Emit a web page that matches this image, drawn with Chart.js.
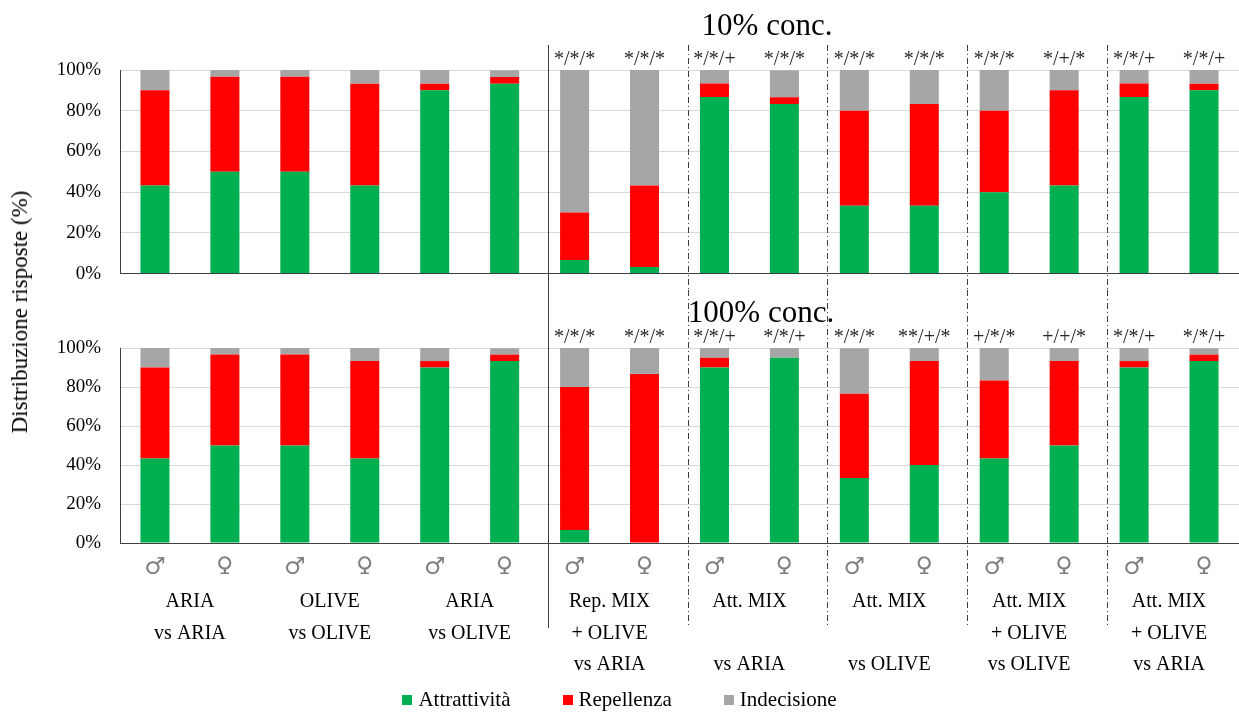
<!DOCTYPE html>
<html>
<head>
<meta charset="utf-8">
<script src="https://cdn.jsdelivr.net/npm/chart.js@4.4.0/dist/chart.umd.min.js"></script>
<style>
  body { margin: 0; background: #fff; }
  #wrap { position: relative; width: 1239px; height: 713px; font-family: 'Liberation Serif', serif; color: #000; }
  #topChart { position: absolute; left: 0; top: 0; }
  #bottomChart { position: absolute; left: 0; top: 290px; }
  #ytitle { position: absolute; left: 20px; top: 312px; transform: translate(-50%, -50%) rotate(-90deg); white-space: nowrap; font-size: 23px; }
  #legend { position: absolute; left: 0; top: 687px; width: 1239px; display: flex; justify-content: center; font-size: 21px; }
  #legend span { display: inline-flex; align-items: center; margin: 0 26px; }
  #legend i { display: inline-block; width: 10px; height: 10px; margin-right: 6px; }
</style>
</head>
<body>
<div id="wrap">
  <canvas id="topChart" width="1239" height="304"></canvas>
  <canvas id="bottomChart" width="1239" height="423"></canvas>
  <div id="ytitle">Distribuzione risposte (%)</div>
  <div id="legend"></div>
</div>
<script>
// categories
const genderLabels = ['♂', '♀', '♂', '♀', '♂', '♀', '♂', '♀', '♂', '♀', '♂', '♀', '♂', '♀', '♂', '♀'];
const groupLabels = [
    ['ARIA', 'vs ARIA'],
    ['OLIVE', 'vs OLIVE'],
    ['ARIA', 'vs OLIVE'],
    ['Rep. MIX', '+ OLIVE', 'vs ARIA'],
    ['Att. MIX', '', 'vs ARIA'],
    ['Att. MIX', '', 'vs OLIVE'],
    ['Att. MIX', '+ OLIVE', 'vs OLIVE'],
    ['Att. MIX', '+ OLIVE', 'vs ARIA']
];
const seriesNames = ['Attrattività', 'Repellenza', 'Indecisione'];

// 10% conc.
const attr10 = [43.3, 50, 50, 43.3, 90, 93.3, 6.7, 3.3, 86.7, 83.3, 33.3, 33.3, 40, 43.3, 86.7, 90];
const rep10 = [46.7, 46.7, 46.7, 50, 3.3, 3.3, 23.3, 40, 6.7, 3.3, 46.7, 50, 40, 46.7, 6.7, 3.3];
const undec10 = [10, 3.3, 3.3, 6.7, 6.7, 3.3, 70, 56.7, 6.7, 13.3, 20, 16.7, 20, 10, 6.7, 6.7];
const notes10 = ['', '', '', '', '', '', '*/*/*', '*/*/*', '*/*/+', '*/*/*', '*/*/*', '*/*/*', '*/*/*', '*/+/*', '*/*/+', '*/*/+'];

// 100% conc.
const attr100 = [43.3, 50, 50, 43.3, 90, 93.3, 6.7, 0, 90, 95, 33.3, 40, 43.3, 50, 90, 93.3];
const rep100 = [46.7, 46.7, 46.7, 50, 3.3, 3.3, 73.3, 86.7, 5, 0, 43.3, 53.3, 40, 43.3, 3.3, 3.3];
const undec100 = [10, 3.3, 3.3, 6.7, 6.7, 3.3, 20, 13.3, 5, 5, 23.3, 6.7, 16.7, 6.7, 6.7, 3.3];
const notes100 = ['', '', '', '', '', '', '*/*/*', '*/*/*', '*/*/+', '*/*/+', '*/*/*', '**/+/*', '+/*/*', '+/+/*', '*/*/+', '*/*/+'];

// separator lines come after these category indexes
const separators = [5, 7, 9, 11, 13];

const colors = ['#00B050', '#FF0000', '#A6A6A6'];

Chart.defaults.font.family = "'Liberation Serif', serif";
Chart.defaults.color = '#000';

const panelDecor = {
    id: 'panelDecor',
    afterDatasetsDraw: function (chart, args, o) {
        const ctx = chart.ctx;
        const xs = chart.scales.x;
        const area = chart.chartArea;
        ctx.save();
        ctx.strokeStyle = '#404040';
        ctx.lineWidth = 1;
        separators.forEach(function (k, n) {
            const x = Math.round(xs.getPixelForValue(k + 0.5) + 8) + 0.5;
            ctx.setLineDash(n === 0 ? [] : [6, 3, 1, 3]);
            ctx.beginPath();
            ctx.moveTo(x, o.lineTop);
            ctx.lineTo(x, o.lineBottom);
            ctx.stroke();
        });
        ctx.setLineDash([]);

        const meta = chart.getDatasetMeta(0);
        ctx.fillStyle = '#262626';
        ctx.font = "20px 'Liberation Serif'";
        ctx.textAlign = 'center';
        ctx.textBaseline = 'alphabetic';
        o.notes.forEach(function (t, i) {
            if (t) ctx.fillText(t, meta.data[i].x, area.top - 5);
        });

        ctx.fillStyle = '#000';
        ctx.font = "31px 'Liberation Serif'";
        ctx.fillText(o.title, o.titleX, o.titleY);
        ctx.restore();
    }
};

function buildDatasets(a, r, u) {
    return [a, r, u].map(function (vals, i) {
        return {
            label: seriesNames[i],
            data: vals,
            backgroundColor: colors[i],
            xAxisID: 'x',
            barPercentage: 0.415,
            categoryPercentage: 1
        };
    });
}

function yScale() {
    return {
        min: 0,
        max: 100,
        afterFit: function (s) { s.width = 120; },
        ticks: {
            stepSize: 20,
            padding: 19,
            font: { size: 19 },
            color: '#000',
            callback: function (v) { return v + '%'; }
        },
        grid: { color: '#D9D9D9', drawTicks: false },
        border: { color: '#404040', width: 1 },
        stacked: true
    };
}

new Chart(document.getElementById('topChart'), {
    type: 'bar',
    data: { labels: genderLabels, datasets: buildDatasets(attr10, rep10, undec10) },
    options: {
        responsive: false,
        animation: false,
        layout: { padding: { top: 70, bottom: 0, left: 0, right: 0 } },
        plugins: {
            legend: { display: false },
            tooltip: { enabled: false },
            panelDecor: { notes: notes10, title: '10% conc.', titleX: 767, titleY: 35, lineTop: 45, lineBottom: 290 }
        },
        scales: {
            x: {
                stacked: true,
                afterFit: function (s) { s.height = 0; },
                ticks: { display: false },
                grid: { display: false },
                border: { color: '#404040', width: 1 }
            },
            y: yScale()
        }
    },
    plugins: [panelDecor]
});

new Chart(document.getElementById('bottomChart'), {
    type: 'bar',
    data: { labels: genderLabels, datasets: buildDatasets(attr100, rep100, undec100) },
    options: {
        responsive: false,
        animation: false,
        layout: { padding: { top: 58, bottom: 39, left: 0, right: 0 } },
        plugins: {
            legend: { display: false },
            tooltip: { enabled: false },
            panelDecor: { notes: notes100, title: '100% conc.', titleX: 761, titleY: 32, lineTop: 0, lineBottom: 338 }
        },
        scales: {
            x: {
                stacked: true,
                weight: 0,
                afterFit: function (s) { s.height = 31; },
                ticks: { padding: 2, color: '#808080', font: { family: "'DejaVu Sans'", size: 24 } },
                grid: { display: false },
                border: { color: '#404040', width: 1 }
            },
            x2: {
                type: 'category',
                position: 'bottom',
                weight: 1,
                labels: groupLabels,
                offset: true,
                afterFit: function (s) { s.height = 100; },
                ticks: { padding: 4, color: '#000', font: { size: 20, lineHeight: '31.5px' }, maxRotation: 0, autoSkip: false },
                grid: { display: false },
                border: { display: false }
            },
            y: yScale()
        }
    },
    plugins: [panelDecor]
});

// legend
let legendHtml = '';
seriesNames.forEach(function (name, i) {
    legendHtml += '<span><i style="background:' + colors[i] + '"></i>' + name + '</span>';
});
document.getElementById('legend').innerHTML = legendHtml;
</script>
</body>
</html>
